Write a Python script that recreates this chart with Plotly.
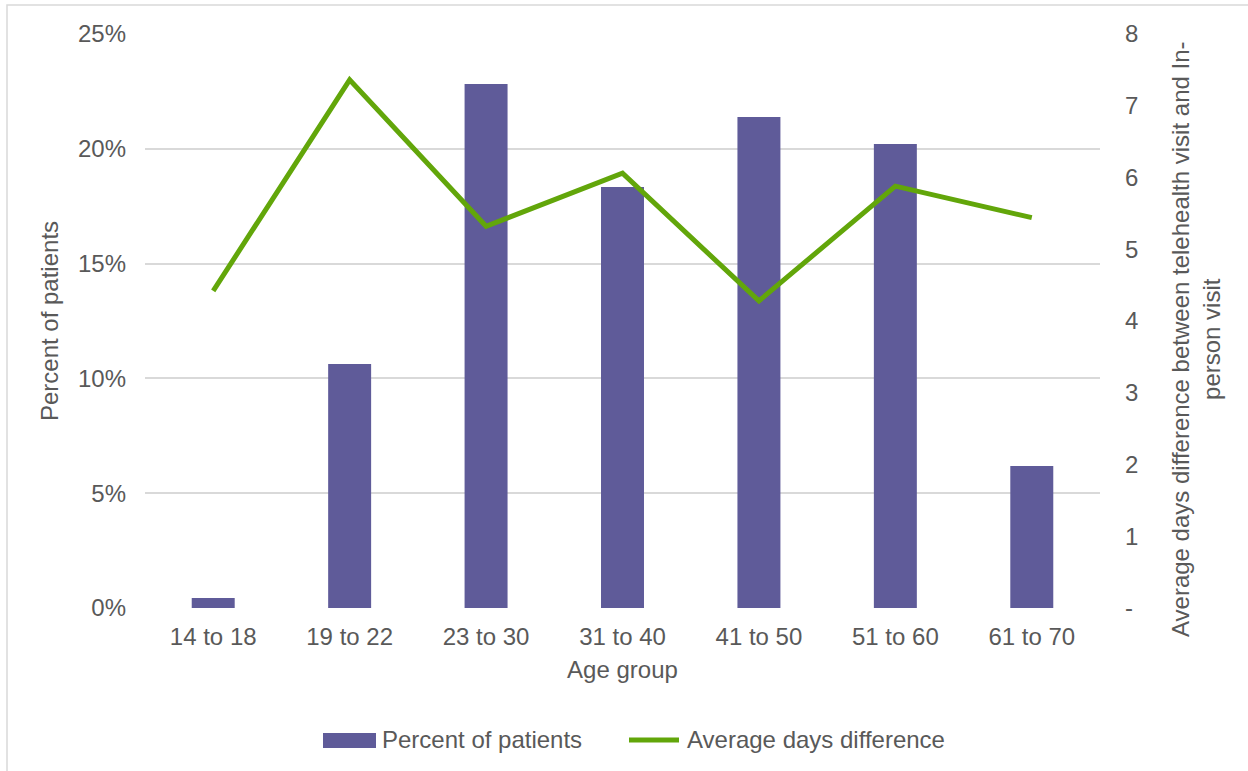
import plotly.graph_objects as go

categories = ["14 to 18", "19 to 22", "23 to 30", "31 to 40", "41 to 50", "51 to 60", "61 to 70"]
percent_patients = [0.44, 10.63, 22.82, 18.34, 21.38, 20.21, 6.18]
avg_days_diff = [4.42, 7.36, 5.32, 6.06, 4.28, 5.88, 5.44]
left_tickvals = [0, 5, 10, 15, 20, 25]
left_ticktext = ["0%", "5%", "10%", "15%", "20%", "25%"]
right_tickvals = [0, 1, 2, 3, 4, 5, 6, 7, 8]
right_ticktext = ["-", "1", "2", "3", "4", "5", "6", "7", "8"]
series_names = ["Percent of patients", "Average days difference"]
right_title = "Average days difference between telehealth visit and In-<br>person visit"

FONT = "Liberation Sans, Arial, sans-serif"
TXT = "#595959"
BAR_COLOR = "#5F5B99"
LINE_COLOR = "#62A60A"
FS = 24

W, H = 1248, 771
L, R, T, B = 145, 1248 - 1100, 34, 771 - 608
pw, ph = W - L - R, H - T - B

def px2x(px):
    return (px - L) / pw

def py2y(py):
    return (H - B - py) / ph

fig = go.Figure()
fig.add_trace(go.Bar(
    x=categories, y=percent_patients, name=series_names[0],
    marker=dict(color=BAR_COLOR, line=dict(width=0)), yaxis="y",
))
fig.add_trace(go.Scatter(
    x=categories, y=avg_days_diff, name=series_names[1],
    mode="lines", line=dict(color=LINE_COLOR, width=5), yaxis="y2",
))

shapes = [
    dict(type="rect", xref="paper", yref="paper",
         x0=px2x(7), x1=px2x(1280), y0=py2y(820), y1=py2y(5),
         line=dict(color="#D9D9D9", width=1.5), fillcolor="rgba(0,0,0,0)", layer="below"),
    # legend swatches
    dict(type="rect", xref="paper", yref="paper",
         x0=px2x(323), x1=px2x(376), y0=py2y(748), y1=py2y(733),
         line=dict(width=0), fillcolor=BAR_COLOR),
    dict(type="line", xref="paper", yref="paper",
         x0=px2x(629), x1=px2x(679), y0=py2y(740), y1=py2y(740),
         line=dict(color=LINE_COLOR, width=5)),
]
annotations = [
    dict(text=series_names[0], xref="paper", yref="paper", x=px2x(380), y=py2y(740),
         xanchor="left", yanchor="middle", showarrow=False, font=dict(size=FS, color=TXT)),
    dict(text=series_names[1], xref="paper", yref="paper", x=px2x(685), y=py2y(740),
         xanchor="left", yanchor="middle", showarrow=False, font=dict(size=FS, color=TXT)),
    dict(text=right_title, xref="paper", yref="paper", x=px2x(1196), y=py2y(339),
         xanchor="center", yanchor="middle", textangle=-90, align="center",
         showarrow=False, font=dict(size=FS, color=TXT)),
]

fig.update_layout(
    width=W, height=H,
    margin=dict(l=L, r=R, t=T, b=B, autoexpand=False),
    paper_bgcolor="white", plot_bgcolor="white",
    font=dict(family=FONT, size=FS, color=TXT),
    bargap=0.685,
    showlegend=False,
    xaxis=dict(type="category", showgrid=False, showline=False, zeroline=False,
               ticks="", tickfont=dict(size=FS, color=TXT), ticklabelstandoff=12,
               title=dict(text="Age group", font=dict(size=FS, color=TXT), standoff=12)),
    yaxis=dict(range=[0, 25], tickvals=left_tickvals, ticktext=left_ticktext,
               showgrid=True, gridcolor="#D9D9D9", gridwidth=1.5, zeroline=False,
               showline=False, ticks="", tickfont=dict(size=FS, color=TXT), ticklabelstandoff=18,
               title=dict(text="Percent of patients", font=dict(size=FS, color=TXT), standoff=12)),
    yaxis2=dict(range=[0, 8], tickvals=right_tickvals, ticktext=right_ticktext,
                overlaying="y", side="right", showgrid=False, zeroline=False,
                showline=False, ticks="", tickfont=dict(size=FS, color=TXT), ticklabelstandoff=24),
    shapes=shapes,
    annotations=annotations,
)

fig.write_html("out.html", config={"displayModeBar": False},
               post_script="document.body.style.margin='0px';document.body.style.overflow='hidden';")
